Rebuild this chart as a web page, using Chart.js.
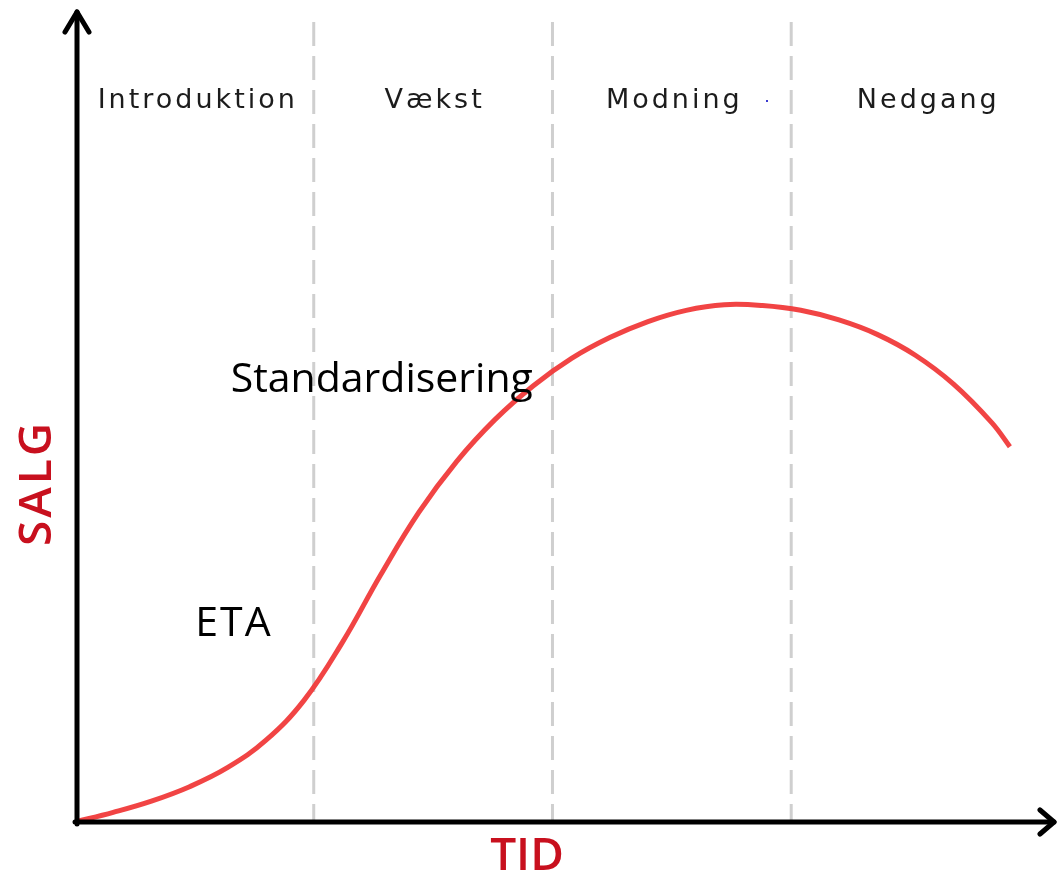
<!DOCTYPE html>
<html>
<head>
<meta charset="utf-8">
<script src="https://cdn.jsdelivr.net/npm/chart.js@4"></script>
<style>
  html, body { margin: 0; padding: 0; background: #fff; }
  #wrap { width: 1057px; height: 885px; }
</style>
</head>
<body>
<div id="wrap"><canvas id="plc"></canvas></div>
<script>
// product life cycle
const timeX  = [0, 4, 8, 12, 16, 20, 24, 28, 32, 36, 40, 44, 48, 52, 56, 60, 64, 68, 72, 76, 80, 84, 88, 92, 96, 97.9];
const salesY = [0, 1.2, 2.6, 4.4, 6.8, 10.2, 15.2, 22.4, 30.8, 38.6, 45.0, 50.2, 54.4, 57.8, 60.4, 62.4, 63.8, 64.5, 64.4, 63.8, 62.6, 60.8, 58.2, 54.6, 49.8, 46.8];

const phaseLabels = ['Introduktion', 'Vækst', 'Modning', 'Nedgang'];
const phaseLabelX = [12.7, 37.5, 62.6, 89.2];
const phaseBounds = [25, 50, 75];

const notes  = ['Standardisering', 'ETA'];
const notesX = [16.3, 12.6];
const notesY = [55.1, 24.6];

const RED = '#c8101e';

// axes with arrows, dashed phase lines and all the texts
const lifeCycleDecor = {
  id: 'lifeCycleDecor',
  beforeDatasetsDraw(chart) {
    const { ctx, chartArea: a, scales: { x, y } } = chart;
    ctx.save();
    ctx.strokeStyle = '#cfcfcf';
    ctx.lineWidth = 3;
    ctx.setLineDash([24, 10]);
    phaseBounds.forEach(b => {
      const px = x.getPixelForValue(b);
      ctx.beginPath();
      ctx.moveTo(px, 22);
      ctx.lineTo(px, a.bottom);
      ctx.stroke();
    });
    ctx.setLineDash([]);

    // phase names
    ctx.fillStyle = '#1c1c1c';
    ctx.font = '27px "DejaVu Sans"';
    ctx.letterSpacing = '3px';
    ctx.textAlign = 'center';
    ctx.textBaseline = 'middle';
    phaseLabels.forEach((t, i) => ctx.fillText(t, x.getPixelForValue(phaseLabelX[i]) + 1.5, 101));
    ctx.letterSpacing = '0px';

    // stray dot next to Modning
    ctx.fillStyle = '#3a3ad0';
    ctx.fillRect(766, 100, 2, 2);
    ctx.restore();
  },
  afterDatasetsDraw(chart) {
    const { ctx, chartArea: a, scales: { x, y } } = chart;
    const ox = x.getPixelForValue(0), oy = y.getPixelForValue(0);
    ctx.save();
    ctx.strokeStyle = '#000';
    ctx.lineCap = 'round';
    ctx.lineJoin = 'round';
    ctx.lineWidth = 5;
    // y axis
    ctx.beginPath();
    ctx.moveTo(ox + 2, oy + 2);
    ctx.lineTo(ox + 2, 12);
    ctx.stroke();
    ctx.beginPath();
    ctx.moveTo(ox - 10, 32);
    ctx.lineTo(ox + 2, 12);
    ctx.lineTo(ox + 14, 32);
    ctx.stroke();
    // x axis
    ctx.beginPath();
    ctx.moveTo(ox, oy);
    ctx.lineTo(1054, oy);
    ctx.stroke();
    ctx.beginPath();
    ctx.moveTo(1040, oy - 12);
    ctx.lineTo(1054, oy);
    ctx.lineTo(1040, oy + 12);
    ctx.stroke();

    // notes on the curve
    ctx.fillStyle = '#000';
    ctx.font = '41px "Open Sans"';
    ctx.textAlign = 'left';
    ctx.textBaseline = 'middle';
    ctx.fillText(notes[0], x.getPixelForValue(notesX[0]), y.getPixelForValue(notesY[0]));
    ctx.letterSpacing = '2px';
    ctx.fillText(notes[1], x.getPixelForValue(notesX[1]), y.getPixelForValue(notesY[1]));
    ctx.letterSpacing = '0px';

    // axis titles
    ctx.fillStyle = RED;
    ctx.font = '600 46px "Open Sans"';
    ctx.textAlign = 'center';
    ctx.fillText('TID', 527, 857);
    ctx.translate(38, 483);
    ctx.rotate(-Math.PI / 2);
    ctx.letterSpacing = '3px';
    ctx.fillText('SALG', 0, 0);
    ctx.restore();
  }
};

new Chart(document.getElementById('plc'), {
  type: 'line',
  data: {
    labels: timeX,
    datasets: [{
      label: 'Salg',
      data: timeX.map((t, i) => ({ x: t, y: salesY[i] })),
      borderColor: 'rgba(240, 58, 58, 0.95)',
      borderWidth: 5,
      pointRadius: 0,
      tension: 0.4,
      fill: false
    }]
  },
  options: {
    responsive: true,
    maintainAspectRatio: false,
    animation: false,
    layout: { padding: { left: 75, top: 20, right: 7, bottom: 63 } },
    scales: {
      x: { type: 'linear', min: 0, max: 102.1, display: false },
      y: { min: 0, max: 100, display: false }
    },
    plugins: { legend: { display: false }, tooltip: { enabled: false } }
  },
  plugins: [lifeCycleDecor]
});
</script>
</body>
</html>
